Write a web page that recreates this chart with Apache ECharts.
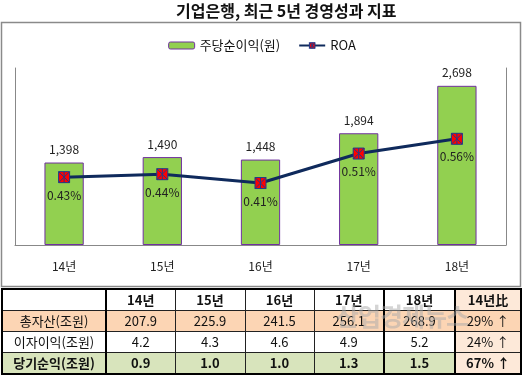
<!DOCTYPE html>
<html>
<head>
<meta charset="utf-8">
<script src="https://cdn.jsdelivr.net/npm/echarts@6/dist/echarts.min.js"></script>
<style>
  body { margin: 0; background: #fff; font-family: "Noto Sans CJK KR", sans-serif; }
  #wrap { position: relative; width: 524px; height: 377px; overflow: hidden; }
  #chart { position: absolute; left: 0; top: 0; width: 524px; height: 377px; }
  #tbl { position: absolute; left: 1px; top: 288px; width: 519px; border-collapse: collapse; table-layout: fixed; font-size: 13px; color: #111; }
  #tbl td { border: 1px solid #222; height: 20px; padding: 0; text-align: center; line-height: 20px; }
  #tbl tr.h td { font-weight: bold; background: #fff; }
  #tbl tr.a td { background: #fcd5b4; }
  #tbl tr.c td { background: #d8e4bc; font-weight: bold; }
  #tbl td.k { border-right: 2px solid #000; }
  #tbl td.y18 { border-left: 2px solid #000; border-right: 2px solid #000; }
  #tbl td.r { background: #fde9d9 !important; }
  #tbl tr.a td.r { background: #fcd5b4 !important; }
  #tbl { border: 2px solid #000; }
  #wm { position: absolute; left: 336px; top: 297px; font-size: 25px; font-weight: bold; color: rgba(170,170,170,0.5); letter-spacing: -1px; pointer-events: none; }
</style>
</head>
<body>
<div id="wrap">
  <div id="chart"></div>
  <table id="tbl"></table>
  <div id="wm">산업경제뉴스</div>
</div>
<script>
var titleText = '기업은행, 최근 5년 경영성과 지표';
var years = ['14년', '15년', '16년', '17년', '18년'];
var eps = [1398, 1490, 1448, 1894, 2698];
var roa = [0.43, 0.44, 0.41, 0.51, 0.56];

var tableHead = ['', '14년', '15년', '16년', '17년', '18년', '14년比'];
var rowNames = ['총자산(조원)', '이자이익(조원)', '당기순익(조원)'];
var totalAssets = ['207.9', '225.9', '241.5', '256.1', '268.9', '29% ↑'];
var interestIncome = ['4.2', '4.3', '4.6', '4.9', '5.2', '24% ↑'];
var netIncome = ['0.9', '1.0', '1.0', '1.3', '1.5', '67% ↑'];

// table
var rows = [totalAssets, interestIncome, netIncome];
var rowCls = ['a', 'b', 'c'];
var widths = [104, 69, 70, 69, 70, 71, 66];
var html = '<colgroup>' + widths.map(function(w) { return '<col style="width:' + w + 'px">'; }).join('') + '</colgroup>';
html += '<tr class="h">' + tableHead.map(function(t, i) {
    var c = i === 0 ? 'k' : (i === 5 ? 'y18' : (i === 6 ? 'r' : ''));
    return '<td class="' + c + '">' + t + '</td>';
}).join('') + '</tr>';
rows.forEach(function(r, j) {
    html += '<tr class="' + rowCls[j] + '"><td class="k">' + rowNames[j] + '</td>' + r.map(function(v, i) {
        var c = i === 4 ? 'y18' : (i === 5 ? 'r' : '');
        return '<td class="' + c + '">' + v + '</td>';
    }).join('') + '</tr>';
});
document.getElementById('tbl').innerHTML = html;

var myChart = echarts.init(document.getElementById('chart'));
var markerPath = 'path://M0,0 L10,0 L10,10 L0,10 Z M0,0 L10,10 M10,0 L0,10 M5,0 L5,10';

var option = {
    animation: false,
    textStyle: { fontFamily: 'Noto Sans CJK KR' },
    graphic: [
        {
            type: 'text', left: 289 - 113, top: 3,
            style: { text: titleText, font: 'bold 16px "Noto Sans CJK KR"', fill: '#111' }
        },
        {
            type: 'rect', shape: { x: 1.5, y: 22.5, width: 519, height: 264 },
            style: { fill: 'none', stroke: '#8a8a8a', lineWidth: 1.5 }, z: -1
        }
    ],
    legend: {
        top: 34,
        left: 'center',
        itemGap: 18,
        textStyle: { fontSize: 13, color: '#111' },
        data: [
            { name: '주당순이익(원)', itemStyle: { color: '#92d050', borderColor: '#7030a0', borderWidth: 1 } },
            { name: 'ROA', itemStyle: { color: '#ff0000', borderColor: '#1f3a8a', borderWidth: 1 } }
        ],
        itemWidth: 26,
        itemHeight: 7
    },
    grid: { left: 15, right: 18, top: 68, bottom: 132 },
    xAxis: {
        type: 'category',
        data: years,
        axisLine: { lineStyle: { color: '#888', width: 1 } },
        axisTick: { length: 6, lineStyle: { color: '#888' } },
        axisLabel: { margin: 15, fontSize: 12, color: '#222' }
    },
    yAxis: [
        {
            type: 'value', min: 0, max: 3000,
            axisLine: { show: true, lineStyle: { color: '#888' } },
            axisTick: { show: false }, axisLabel: { show: false }, splitLine: { show: false }
        },
        {
            type: 'value', min: 0.2, max: 0.8,
            axisLine: { show: true, lineStyle: { color: '#888' } },
            axisTick: { show: false }, axisLabel: { show: false }, splitLine: { show: false }
        }
    ],
    series: [
        {
            name: '주당순이익(원)',
            type: 'bar',
            data: eps,
            barWidth: '40%',
            itemStyle: { color: '#92d050', borderColor: '#7030a0', borderWidth: 1 },
            label: {
                show: true, position: 'top', distance: 7, fontSize: 12, color: '#222',
                formatter: function(p) { return p.value.toLocaleString('en-US'); }
            }
        },
        {
            name: 'ROA',
            type: 'line',
            yAxisIndex: 1,
            data: roa,
            symbol: markerPath,
            symbolSize: 11,
            lineStyle: { color: '#0f2a5c', width: 3 },
            itemStyle: { color: '#ff0000', borderColor: '#1f3a8a', borderWidth: 1 },
            label: {
                show: true, position: 'bottom', distance: 6, fontSize: 12, color: '#222',
                formatter: function(p) { return p.value.toFixed(2) + '%'; }
            },
            z: 3
        }
    ]
};
myChart.setOption(option);
</script>
</body>
</html>
